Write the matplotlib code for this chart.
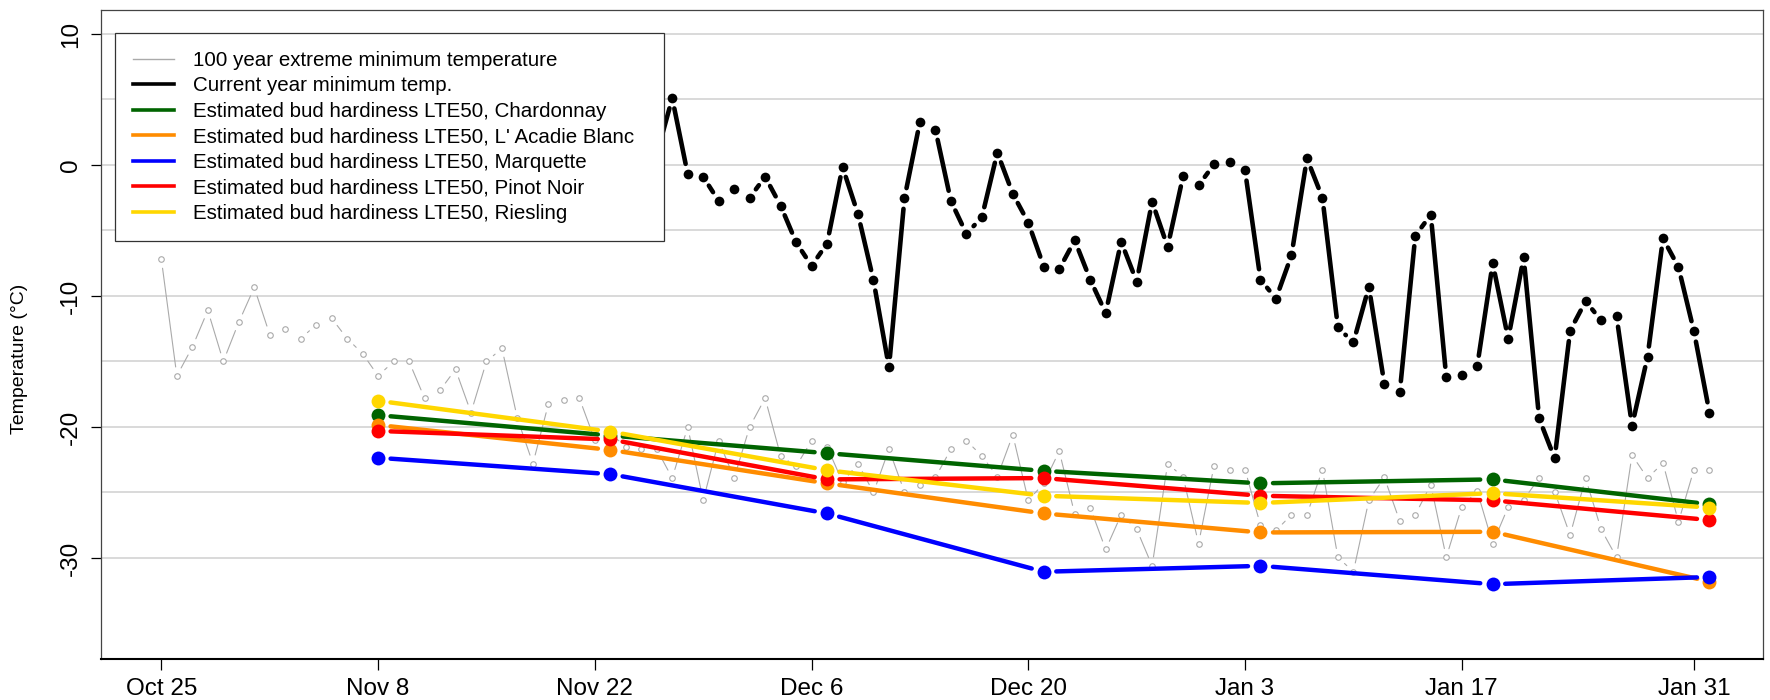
import numpy as np
import matplotlib
matplotlib.use("Agg")
import matplotlib.pyplot as plt
from matplotlib.collections import LineCollection
from matplotlib.lines import Line2D

plt.rcParams['font.family'] = ['Liberation Sans', 'DejaVu Sans']

# ---------------- data ----------------
# x axis: days since Oct 25
tick_days = [0, 14, 28, 42, 56, 70, 84, 99]
tick_labels = ["Oct 25", "Nov 8", "Nov 22", "Dec 6", "Dec 20", "Jan 3", "Jan 17", "Jan 31"]
y_ticks = [-30, -20, -10, 0, 10]
grid_levels = [-30, -25, -20, -15, -10, -5, 0, 5, 10]

# 100 year extreme minimum temperature (daily, day 0..100)
extreme_days = list(range(0, 101))
extreme_min = [
    -7.2, -16.1, -13.9, -11.1, -15.0, -12.0, -9.35, -12.95, -12.5, -13.25,
    -12.2, -11.7, -13.25, -14.4, -16.1, -15.0, -15.0, -17.8, -17.2, -15.6,
    -18.9, -15.0, -14.0, -19.35, -22.8, -18.25, -17.95, -17.8, -21.0, -20.5,
    -21.5, -21.7, -21.7, -23.9, -20.0, -25.6, -21.05, -23.9, -20.0, -17.8,
    -22.2, -23.0, -21.05, -21.5, -24.2, -22.8, -25.0, -21.7, -24.95, -24.4,
    -23.85, -21.7, -21.05, -22.2, -23.8, -20.6, -25.6, -24.3, -21.85, -26.65,
    -26.15, -29.35, -26.7, -27.8, -30.6, -22.8, -23.8, -28.9, -22.95, -23.25,
    -23.25, -27.5, -27.9, -26.7, -26.7, -23.25, -29.95, -31.05, -25.6, -23.85,
    -27.2, -26.7, -24.4, -29.95, -26.1, -24.9, -28.9, -26.1, -25.55, -23.9,
    -24.95, -28.25, -23.9, -27.8, -29.95, -22.15, -23.9, -22.75, -27.25, -23.25,
    -23.25,
]

# Current year minimum temperature (day 32..100)
current_days = list(range(32, 101))
current_min = [
    0.8, 5.1, -0.7, -0.9, -2.75, -1.8, -2.5, -0.9, -3.1, -5.9,
    -7.7, -6.0, -0.15, -3.75, -8.8, -15.45, -2.55, 3.3, 2.7, -2.75,
    -5.25, -4.0, 0.95, -2.2, -4.4, -7.75, -7.95, -5.75, -8.75, -11.3,
    -5.85, -8.9, -2.8, -6.25, -0.85, -1.55, 0.05, 0.2, -0.4, -8.75,
    -10.2, -6.9, 0.5, -2.5, -12.4, -13.55, -9.3, -16.7, -17.3, -5.4,
    -3.8, -16.2, -16.0, -15.35, -7.5, -13.25, -7.05, -19.35, -22.4, -12.65,
    -10.4, -11.85, -11.55, -19.9, -14.65, -5.6, -7.8, -12.7, -18.9,
]

# Estimated bud hardiness LTE50
lte_days = [14, 29, 43, 57, 71, 86, 100]
chardonnay = [-19.1, -20.65, -22.0, -23.35, -24.3, -24.0, -25.9]
lacadie = [-19.85, -21.75, -24.3, -26.6, -28.05, -28.0, -31.8]
marquette = [-22.35, -23.6, -26.6, -31.05, -30.6, -32.0, -31.45]
pinot_noir = [-20.3, -20.95, -24.0, -23.9, -25.25, -25.6, -27.1]
riesling = [-18.0, -20.35, -23.3, -25.25, -25.8, -25.05, -26.15]

legend_labels = [
    "100 year extreme minimum temperature",
    "Current year minimum temp.",
    "Estimated bud hardiness LTE50, Chardonnay",
    "Estimated bud hardiness LTE50, L' Acadie Blanc",
    "Estimated bud hardiness LTE50, Marquette",
    "Estimated bud hardiness LTE50, Pinot Noir",
    "Estimated bud hardiness LTE50, Riesling",
]

# ---------------- figure ----------------
W, H = 1770, 700
fig = plt.figure(figsize=(W / 100, H / 100), dpi=100)
ax = fig.add_axes([101 / W, 1 - 659 / H, 1662 / W, 649 / H])
ax.set_xlim(-3.90, 103.46)
ax.set_ylim(-37.71, 11.83)

for g in grid_levels:
    ax.axhline(g, color='#d0d0d0', lw=1.1, zorder=0)


def draw_b(x, y, color, lw, gap_px, marker_kw, z):
    """R type='b' style: segments with gaps around the points."""
    trans = ax.transData
    inv = trans.inverted()
    pts = trans.transform(np.column_stack([x, y]))
    segs = []
    for p0, p1 in zip(pts[:-1], pts[1:]):
        d = p1 - p0
        L = np.hypot(d[0], d[1])
        if L > 2 * gap_px + 0.5:
            u = d / L
            segs.append(inv.transform(np.array([p0 + u * gap_px, p1 - u * gap_px])))
    lc = LineCollection(segs, colors=color, linewidths=lw, zorder=z)
    lc.set_capstyle('round')
    ax.add_collection(lc)
    ax.plot(x, y, ls='none', marker='o', zorder=z + 0.1, **marker_kw)


gray = '#aaaaaa'
draw_b(extreme_days, extreme_min, gray, 0.8, 9.0,
       dict(ms=4.0, mfc='white', mec=gray, mew=0.8), 2)
draw_b(current_days, current_min, 'black', 3.3, 10.5,
       dict(ms=7.0, mfc='black', mec='black', mew=0), 2.2)

series = [
    (chardonnay, '#006400'),
    (lacadie, '#FF8C00'),
    (marquette, '#0000FF'),
    (pinot_noir, '#FF0000'),
    (riesling, '#FFD700'),
]
for i, (vals, col) in enumerate(series):
    draw_b(lte_days, vals, col, 3.2, 12.5,
           dict(ms=10.0, mfc=col, mec=col, mew=0), 2.4 + 0.2 * i)

# axes styling
ax.set_xticks(tick_days)
ax.set_xticklabels(tick_labels)
ax.set_yticks(y_ticks)
ax.set_yticklabels([str(v) for v in y_ticks])
ax.tick_params(axis='x', direction='out', length=7.7, width=0.9, labelsize=17.5, pad=6.0)
ax.tick_params(axis='y', direction='out', length=7.2, width=0.9, labelsize=17.5, pad=6.5)
for lab in ax.get_yticklabels():
    lab.set_rotation(90)
    lab.set_va('center')
    lab.set_ha('right')

for s in ['left', 'top', 'right']:
    ax.spines[s].set_color('#444444')
    ax.spines[s].set_linewidth(0.9)
ax.spines['bottom'].set_color('black')
ax.spines['bottom'].set_linewidth(1.5)

fig.text(19.2 / W, 1 - 359 / H, "Temperature (\u00b0C)", rotation=90,
         ha='center', va='center', fontsize=14.0)

# legend
leg_colors = [gray, 'black'] + [c for _, c in series]
leg_widths = [1.0, 2.6, 2.6, 2.6, 2.6, 2.6, 2.6]
handles = [Line2D([0], [0], color=c, lw=w) for c, w in zip(leg_colors, leg_widths)]
leg = ax.legend(handles, legend_labels, loc='upper left',
                bbox_to_anchor=(0.00872, 0.0, 0.3303, 0.9641), mode='expand',
                borderaxespad=0, fontsize=14.8, frameon=True, fancybox=False,
                framealpha=1, edgecolor='#333333', borderpad=0.85,
                handlelength=2.0, handletextpad=0.9, labelspacing=0.32)
leg.get_frame().set_linewidth(0.9)
leg.set_zorder(10)

fig.savefig("out.png", dpi=100)
